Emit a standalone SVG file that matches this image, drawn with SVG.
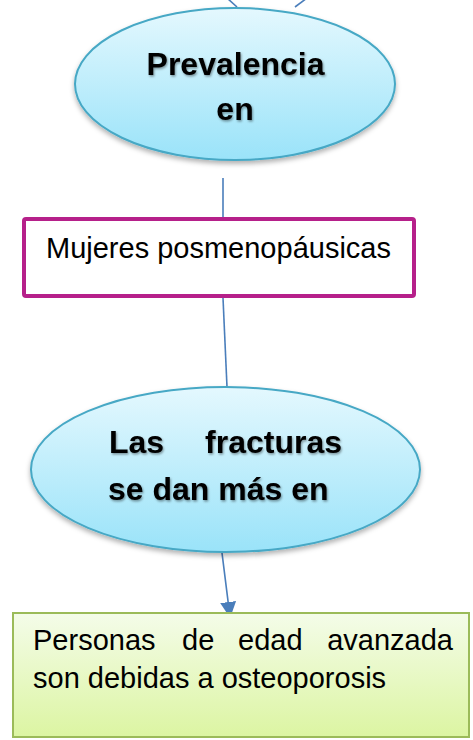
<svg xmlns="http://www.w3.org/2000/svg" width="473" height="740" viewBox="0 0 473 740">
  <defs>
    <linearGradient id="blueFill" x1="0" y1="0" x2="0" y2="1">
      <stop offset="0" stop-color="#e4f8fe"/>
      <stop offset="1" stop-color="#9ae3f9"/>
    </linearGradient>
    <linearGradient id="greenFill" x1="0" y1="0" x2="0" y2="1">
      <stop offset="0" stop-color="#f4fce9"/>
      <stop offset="1" stop-color="#dcf5a2"/>
    </linearGradient>
    <filter id="shadow" x="-10%" y="-10%" width="120%" height="130%">
      <feDropShadow dx="0" dy="3" stdDeviation="2.5" flood-color="#000" flood-opacity="0.3"/>
    </filter>
    <filter id="tshadow" x="-5%" y="-20%" width="110%" height="140%">
      <feDropShadow dx="1" dy="1.5" stdDeviation="1" flood-color="#000" flood-opacity="0.4"/>
    </filter>
    <marker id="arrow" viewBox="0 0 16 16" refX="15" refY="8" markerWidth="16" markerHeight="16" markerUnits="userSpaceOnUse" orient="auto">
      <path d="M0,0 L16,8 L0,16 z" fill="#4a7ebb"/>
    </marker>
    <style>
      .ell { fill: url(#blueFill); stroke: #46a8c5; stroke-width: 2; filter: url(#shadow); }
      .bold { font-family: "Liberation Sans", Arial, sans-serif; font-weight: bold; font-size: 32px; fill: #000; filter: url(#tshadow); }
      .reg { font-family: "Liberation Sans", Arial, sans-serif; font-size: 29px; fill: #000; }
      .conn { stroke: #4a7ebb; stroke-width: 1.6; fill: none; }
    </style>
  </defs>
  <rect width="473" height="740" fill="#ffffff"/>

  <g id="connectors">
    <line class="conn" x1="227" y1="-2" x2="237" y2="7"/>
    <line class="conn" x1="307" y1="-2" x2="295" y2="7"/>
    <line class="conn" x1="223" y1="178" x2="223" y2="217"/>
    <line class="conn" x1="223" y1="298" x2="227" y2="387"/>
    <line class="conn" x1="222" y1="553" x2="230" y2="617" marker-end="url(#arrow)"/>
  </g>

  <g id="node-prevalencia">
    <ellipse class="ell" cx="235" cy="84" rx="160" ry="76"/>
    <text class="bold" x="235.5" y="75" text-anchor="middle">Prevalencia</text>
    <text class="bold" x="235" y="120" text-anchor="middle">en</text>
  </g>

  <g id="node-mujeres">
    <rect x="24" y="219" width="390" height="77" rx="2" fill="#ffffff" stroke="#b6208a" stroke-width="4"/>
    <text class="reg" x="46" y="258">Mujeres posmenopáusicas</text>
  </g>

  <g id="node-fracturas">
    <ellipse class="ell" cx="225.5" cy="469.5" rx="194.5" ry="82.5"/>
    <text class="bold" x="109" y="453">Las</text>
    <text class="bold" x="342" y="453" text-anchor="end">fracturas</text>
    <text class="bold" x="108" y="500">se dan más en</text>
  </g>

  <g id="node-personas">
    <rect x="13" y="613" width="456" height="124" fill="url(#greenFill)" stroke="#9bbb59" stroke-width="2"/>
    <text class="reg" x="33" y="650">Personas</text>
    <text class="reg" x="182" y="650">de</text>
    <text class="reg" x="238" y="650">edad</text>
    <text class="reg" x="453" y="650" text-anchor="end">avanzada</text>
    <text class="reg" x="33" y="688">son debidas a osteoporosis</text>
  </g>
</svg>
